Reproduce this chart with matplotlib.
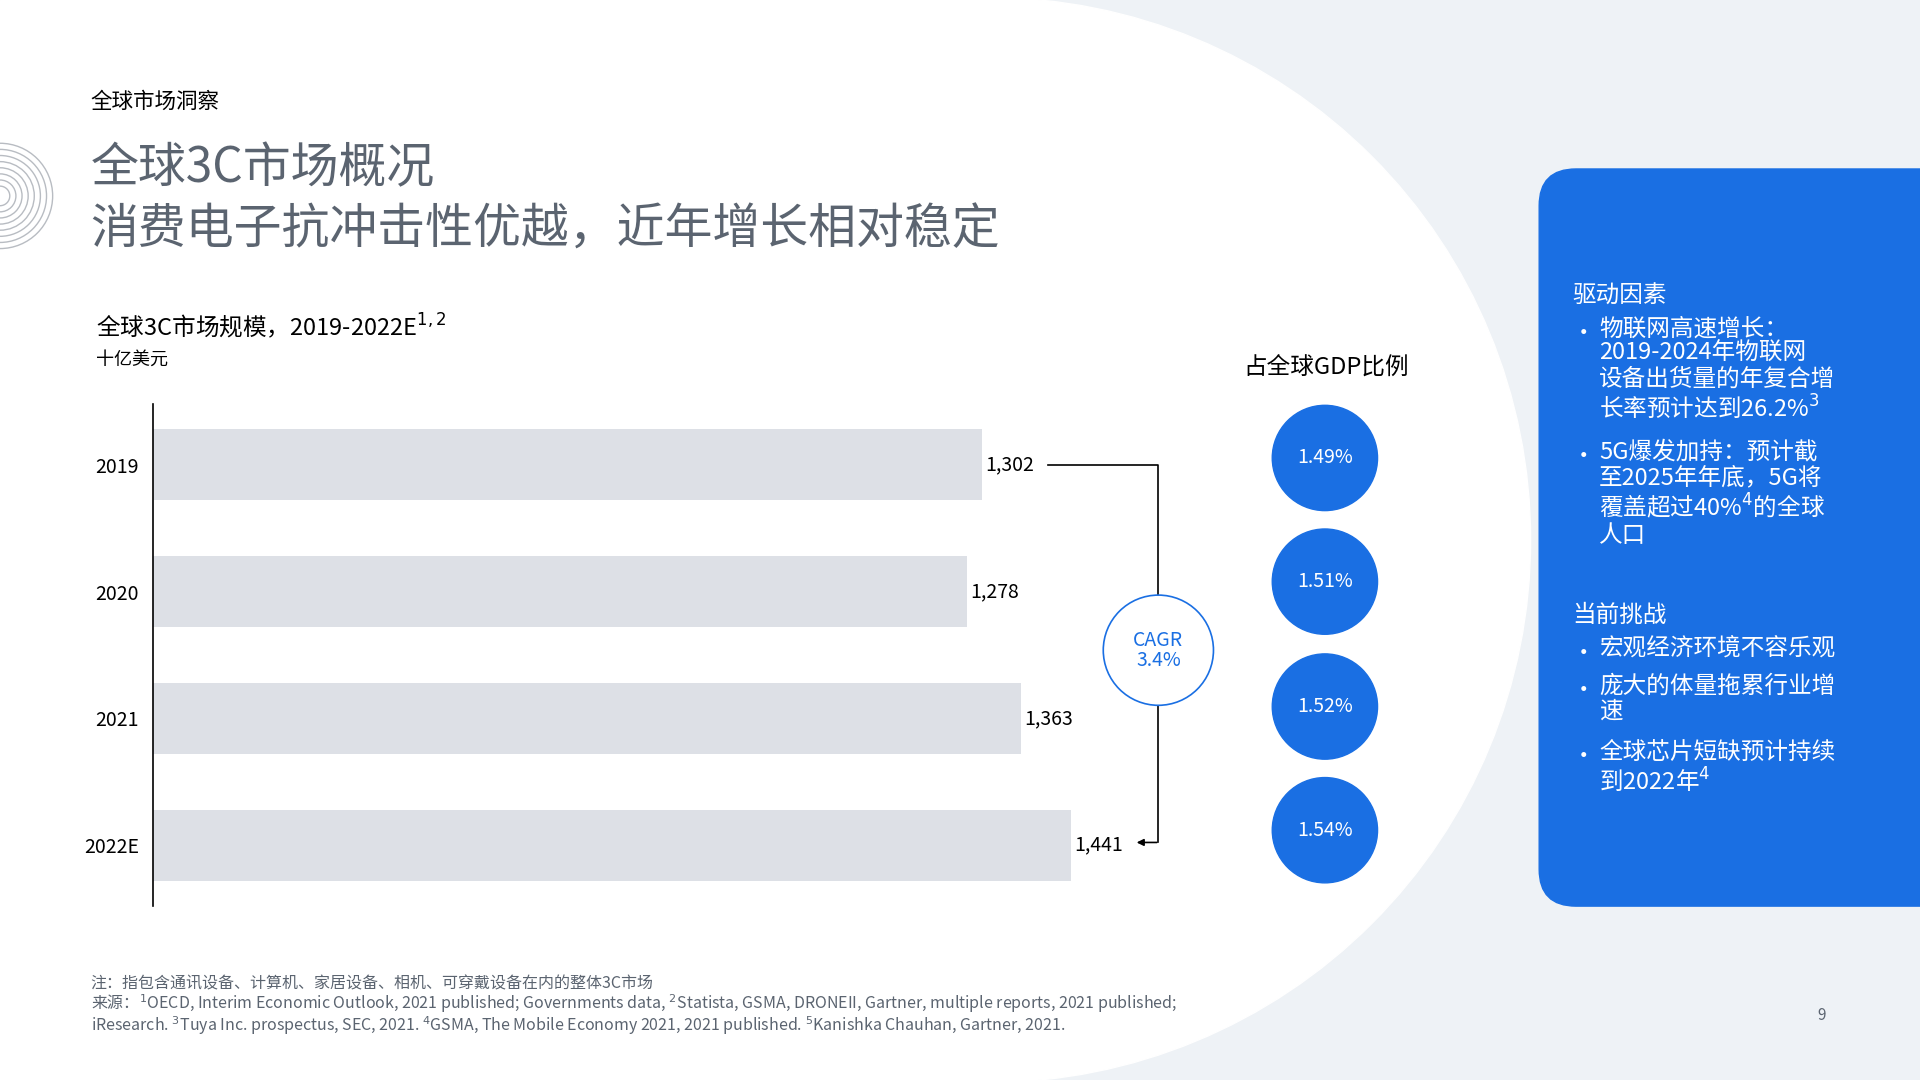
import matplotlib.pyplot as plt
from matplotlib.patches import Circle, FancyBboxPatch, Rectangle

plt.rcParams['font.family'] = 'Noto Sans CJK SC'

years = ['2019', '2020', '2021', '2022E']
market_size = [1302, 1278, 1363, 1441]
gdp_share = ['1.49%', '1.51%', '1.52%', '1.54%']

BLUE = '#1a6fe3'
DARK = '#5b6470'

fig = plt.figure(figsize=(19.2, 10.8), dpi=100)
# overlay in reference pixel coords (1568 x 882)
ov = fig.add_axes([0, 0, 1, 1])
ov.set_xlim(0, 1568)
ov.set_ylim(882, 0)
ov.axis('off')
ov.add_patch(Rectangle((0, 0), 1568, 882, color='#eef2f6', zorder=0))
ov.add_patch(Circle((807, 441), 443, color='white', zorder=1))
ov.add_patch(Rectangle((0, 0), 807, 882, color='white', zorder=1))
# decorative rings
for r in range(8, 48, 5):
    ov.add_patch(Circle((0, 160), r, fill=False, ec='#b8bcc2', lw=1, zorder=2))

ov.text(74, 83, '全球市场洞察', fontsize=15.5, va='center', zorder=3)
ov.text(74, 138, '全球3C市场概况', fontsize=34.5, color=DARK, va='center', zorder=3)
ov.text(74, 188, '消费电子抗冲击性优越，近年增长相对稳定', fontsize=34.5, color=DARK, va='center', zorder=3)
ov.text(78, 266, '全球3C市场规模，2019-2022E$^{1,2}$', fontsize=17, va='center', zorder=3)
ov.text(78, 294, '十亿美元', fontsize=13, va='center', zorder=3)

# bar chart: 0.52 px per unit, axes from x=125 to x=1000
ax = fig.add_axes([125 / 1568, 1 - 740 / 882, 875 / 1568, 410 / 882])
ax.patch.set_alpha(0)
ax.set_zorder(3)
ypos = [0, 1, 2, 3]
ax.barh(ypos, market_size, height=0.56, color='#dde0e6')
ax.set_xlim(0, 875 / 0.52)
ax.set_ylim(3.48, -0.48)
for s in ['top', 'right', 'bottom']:
    ax.spines[s].set_visible(False)
ax.spines['left'].set_linewidth(1.2)
ax.set_xticks([])
ax.set_yticks(ypos)
ax.set_yticklabels(years, fontsize=14)
ax.tick_params(axis='y', length=0, pad=10)
for y, v in zip(ypos, market_size):
    ax.text(v + 5, y, f'{v:,}', fontsize=14, va='center')

# CAGR connector
ov.plot([856, 946, 946], [380, 380, 487], color='black', lw=1.2, zorder=3)
ov.plot([946, 946], [575, 688], color='black', lw=1.2, zorder=3)
ov.annotate('', xy=(926, 688), xytext=(947, 688),
            arrowprops=dict(arrowstyle='-|>', color='black', lw=1.2), zorder=3)
ov.add_patch(Circle((946, 531), 45, fill=True, fc='white', ec=BLUE, lw=1.2, zorder=3))
ov.text(946, 531, 'CAGR\n3.4%', color=BLUE, fontsize=14, ha='center', va='center',
        linespacing=0.95, zorder=4)

# GDP share circles
ov.text(1083, 301, '占全球GDP比例', fontsize=17, ha='center', va='center', zorder=3)
for yc, s in zip([374, 475, 577, 678], gdp_share):
    ov.add_patch(Circle((1082, yc), 43, color=BLUE, zorder=3))
    ov.text(1082, yc, s, color='white', fontsize=14, ha='center', va='center', zorder=4)

# right panel
ov.add_patch(FancyBboxPatch((1257, 138), 400, 602, boxstyle='round,pad=0,rounding_size=30',
                            color=BLUE, zorder=3))
ov.text(1284, 242, '驱动因素', color='white', fontsize=17, va='center', zorder=4)
ov.text(1284, 503, '当前挑战', color='white', fontsize=17, va='center', zorder=4)
bullets = [(272, '物联网高速增长：\n2019-2024年物联网\n设备出货量的年复合增\n长率预计达到26.2%$^3$'),
           (373, '5G爆发加持：预计截\n至2025年年底，5G将\n覆盖超过40%$^4$的全球\n人口'),
           (534, '宏观经济环境不容乐观'),
           (564, '庞大的体量拖累行业增\n速'),
           (618, '全球芯片短缺预计持续\n到2022年$^4$')]
for y, t in bullets:
    ov.text(1284, y, '•', color='white', fontsize=17, va='center', ha='left', zorder=4)
    ov.text(1306, y - 13, t, color='white', fontsize=17, va='top', ha='left',
            linespacing=1.12, zorder=4)

# footnotes
foot = ('注：指包含通讯设备、计算机、家居设备、相机、可穿戴设备在内的整体3C市场\n'
        '来源：$^1$OECD, Interim Economic Outlook, 2021 published; Governments data, $^2$Statista, GSMA, DRONEII, Gartner, multiple reports, 2021 published;\n'
        'iResearch. $^3$Tuya Inc. prospectus, SEC, 2021. $^4$GSMA, The Mobile Economy 2021, 2021 published. $^5$Kanishka Chauhan, Gartner, 2021.')
ov.text(74, 797, foot, fontsize=11.5, color=DARK, va='top', linespacing=0.95, zorder=3)
ov.text(1488, 829, '9', fontsize=11, color=DARK, ha='center', va='center', zorder=3)

fig.savefig('out.png', dpi=100)
